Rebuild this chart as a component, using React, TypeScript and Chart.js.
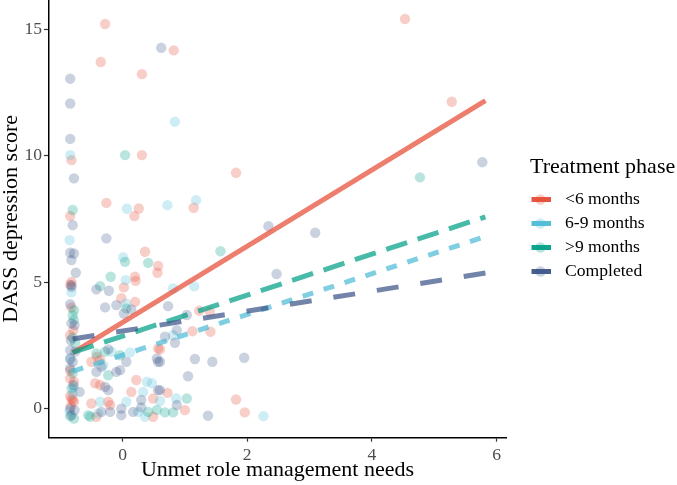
import React, { useEffect, useRef } from "react";
import { Chart, registerables } from "chart.js";

Chart.register(...registerables);

// ---------- data ----------
const groupLabels = ["<6 months", "6-9 months", ">9 months", "Completed"];
const groupColors = ["230,75,53", "77,187,213", "0,160,135", "60,84,136"];

const xTicks = [0, 2, 4, 6];
const yTicks = [0, 5, 10, 15];

const lt6X = [-0.28, -0.35, 0.82, 0.31, 0.31, 1.82, -0.26, 0.26, 0.19, 1.14, 4.53, 5.28, -0.82, -0.84, 0.36, 0.57, 0.56, -0.82, 0.2, 0.21, 0.02, -0.82, -0.02, 0.2, 1.23, 1.4, 1.12, 1.41, 0.6, -0.84, 0.57, -0.5, -0.36, -0.41, -0.84, -0.78, -0.44, -0.36, 0.22, 0.14, 0.49, -0.5, -0.23, -0.2, -0.42, 0.49, 0.72, 1.0, 1.82, 1.96, -0.82, -0.78, -0.84, -0.8, -0.84, -0.84, -0.83, -0.79];
const lt6Y = [15.2, 13.7, 14.16, 13.22, 10.02, 9.32, 8.13, 7.91, 7.61, 7.94, 15.4, 12.13, 9.82, 7.61, 6.2, 5.64, 5.37, 5.01, 5.21, 5.05, 4.79, 4.0, 4.36, 4.22, 3.87, 3.83, 3.06, 3.04, 2.34, 2.9, 2.38, 1.85, 1.92, 2.05, 1.19, 1.06, 1.0, 0.93, 1.13, 0.66, 0.4, 0.2, 0.27, 0.14, -0.32, -0.32, 0.62, -0.06, 0.36, -0.15, 0.4, 0.27, 0.5, 0.33, 1.5, 4.9, 0.1, 3.1];

const m69X = [0.84, 0.07, 0.72, 1.18, -0.84, -0.85, 0.01, 0.05, 0.05, 0.81, 1.15, -0.18, 0.12, -0.31, 0.47, 0.33, 0.06, -0.36, 0.36, 0.86, 2.26, 0.81, -0.78, -0.85, -0.84, 0.25, -0.39, 0.39, -0.82, -0.8, 0.6];
const m69Y = [11.34, 7.9, 8.04, 8.24, 10.02, 6.66, 5.98, 5.08, 4.16, 4.75, 4.83, 2.25, 2.22, 1.72, 1.0, 0.66, 0.27, 0.27, -0.32, 0.4, -0.3, 2.9, 0.85, -0.1, 2.0, -0.13, -0.19, 1.06, 4.6, 0.6, 0.3];

const gt9X = [0.04, 4.77, 1.57, -0.8, 0.04, 0.41, -0.19, -0.36, 0.06, -0.78, -0.8, -0.78, -0.42, -0.28, -0.04, -0.23, -0.8, -0.52, 0.41, 1.03, 0.68, 0.81, -0.78, -0.84, -0.8, -0.76, -0.55, 0.55, -0.82];
const gt9Y = [10.02, 9.14, 6.22, 7.85, 5.8, 5.76, 5.21, 4.84, 3.96, 3.89, 3.69, 3.5, 2.18, 2.25, 2.11, 1.32, 1.4, -0.32, -0.13, 0.4, -0.15, -0.15, -0.39, -0.3, 2.8, 2.6, -0.26, -0.05, 0.8];

const compX = [0.62, -0.84, -0.84, -0.84, -0.78, -0.8, -0.26, 5.77, 2.34, 3.09, 2.47, -0.84, -0.78, -0.82, -0.75, -0.82, -0.82, -0.42, -0.22, -0.84, -0.28, -0.1, 0.02, 0.14, 0.73, 1.03, 0.87, 0.84, -0.82, -0.77, -0.83, -0.84, -0.76, -0.84, -0.8, -0.84, -0.79, -0.69, -0.84, -0.77, -0.82, -0.23, -0.34, 0.06, -0.04, -0.42, -0.1, 0.55, 0.57, 0.6, 1.16, 1.44, 1.95, 1.05, 0.6, 0.87, 1.37, -0.28, -0.23, 0.57, 0.3, -0.2, -0.34, -0.02, -0.02, 0.17, 0.3, 0.68];
const compY = [14.26, 13.04, 12.06, 10.66, 9.1, 7.25, 6.73, 9.74, 7.21, 6.95, 5.32, 6.16, 6.13, 5.87, 5.37, 4.88, 4.81, 4.71, 4.66, 4.13, 4.0, 4.09, 3.76, 3.92, 4.05, 3.7, 3.1, 2.6, 3.37, 3.3, 2.7, 2.31, 2.25, 1.95, 1.85, 1.59, 0.93, 0.66, 0.0, -0.06, -0.26, 2.34, 1.65, 1.85, 1.52, 1.45, 1.45, 1.98, 1.85, 1.85, 1.96, 1.85, 2.01, 1.28, 0.73, 0.14, -0.28, 0.86, 0.73, 0.73, 0.34, -0.13, -0.13, 0.0, -0.26, -0.13, 0.05, 2.84];

// fitted lines (endpoints)
const fitX = [-0.8, 5.82];
const lt6Fit = [2.2, 12.17];
const m69Fit = [1.47, 6.8];
const gt9Fit = [2.22, 7.58];
const compFit = [2.75, 5.36];

const xTitle = "Unmet role management needs";
const yTitle = "DASS depression score";
const legendTitle = "Treatment phase";

const FONT = '"Liberation Serif", "Times New Roman", serif';

const pts = (xs: number[], ys: number[]) => xs.map((x, i) => ({ x, y: ys[i] }));

const legendPlugin = {
  id: "customLegend",
  afterDraw(chart: any) {
    const ctx = chart.ctx;
    const ca = chart.chartArea;
    const left = ca.right + 24;
    ctx.save();
    ctx.textBaseline = "middle";
    ctx.textAlign = "left";
    ctx.fillStyle = "#000";
    ctx.font = `22px ${FONT}`;
    ctx.fillText(legendTitle, left, 167);
    groupLabels.forEach((lab, i) => {
      const y = 199.5 + i * 24;
      ctx.fillStyle = `rgba(${groupColors[i]},0.27)`;
      ctx.beginPath();
      ctx.arc(left + 10.5, y, 5.2, 0, Math.PI * 2);
      ctx.fill();
      ctx.strokeStyle = `rgba(${groupColors[i]},0.95)`;
      ctx.lineWidth = 5;
      ctx.lineCap = "butt";
      ctx.beginPath();
      ctx.moveTo(left + 1.5, y);
      ctx.lineTo(left + 21, y);
      ctx.stroke();
      ctx.fillStyle = "#000";
      ctx.font = `17.6px ${FONT}`;
      ctx.fillText(lab, left + 35, y);
    });
    ctx.restore();
  },
};

const zeroPad = (s: any) => {
  s.paddingTop = 0;
  s.paddingBottom = 0;
  s.paddingLeft = 0;
  s.paddingRight = 0;
};

export default function App() {
  const ref = useRef<HTMLCanvasElement>(null);
  useEffect(() => {
    if (!ref.current) return;
    const scatterSets = [
      [lt6X, lt6Y],
      [m69X, m69Y],
      [gt9X, gt9Y],
      [compX, compY],
    ].map(([xs, ys], i) => ({
      label: groupLabels[i],
      data: pts(xs, ys),
      backgroundColor: `rgba(${groupColors[i]},0.27)`,
      borderWidth: 0,
      pointRadius: 5.2,
      order: 13 - i,
    }));
    const fits = [lt6Fit, m69Fit, gt9Fit, compFit];
    const dashes = [[], [11, 11], [22, 11], [22, 22]];
    const lineSets = fits.map((f, i) => ({
      label: groupLabels[i] + " fit",
      data: pts(fitX, f),
      showLine: true,
      borderColor: `rgba(${groupColors[i]},0.72)`,
      borderWidth: 5,
      borderDash: dashes[i],
      borderCapStyle: "butt",
      pointRadius: 0,
      fill: false,
      order: 3 - i,
    }));
    const chart = new Chart(ref.current, {
      type: "scatter",
      data: { datasets: [...lineSets, ...scatterSets] as any },
      options: {
        animation: false,
        responsive: false,
        events: [],
        layout: { autoPadding: false, padding: { left: 0, right: 171, top: 0, bottom: 0 } },
        plugins: { legend: { display: false }, tooltip: { enabled: false } },
        scales: {
          x: {
            type: "linear",
            min: -1.18,
            max: 6.15,
            afterBuildTicks: (s: any) => {
              s.ticks = xTicks.map((v) => ({ value: v }));
            },
            afterFit: (s: any) => {
              s.height = 47.3;
              zeroPad(s);
            },
            grid: { drawOnChartArea: false, drawTicks: true, tickLength: 4, tickColor: "#333", tickWidth: 1.2 },
            border: { display: true, color: "#000", width: 1.5 },
            ticks: { color: "#4D4D4D", font: { family: FONT, size: 17.6 }, padding: 3, maxRotation: 0 },
            title: { display: true, text: xTitle, color: "#000", font: { family: FONT, size: 22, lineHeight: 1 }, padding: { top: 0, bottom: 4 } },
          },
          y: {
            type: "linear",
            min: -1.15,
            max: 16.15,
            afterBuildTicks: (s: any) => {
              s.ticks = yTicks.map((v) => ({ value: v }));
            },
            afterFit: (s: any) => {
              s.width = 49;
              zeroPad(s);
            },
            grid: { drawOnChartArea: false, drawTicks: true, tickLength: 5, tickColor: "#333", tickWidth: 1.2 },
            border: { display: true, color: "#000", width: 1.5 },
            ticks: { color: "#4D4D4D", font: { family: FONT, size: 17.6 }, padding: 2 },
            title: { display: true, text: yTitle, color: "#000", font: { family: FONT, size: 22, lineHeight: 1 }, padding: { top: 0, bottom: 0 } },
          },
        },
      } as any,
      plugins: [legendPlugin],
    });
    return () => chart.destroy();
  }, []);
  return (
    <div style={{ position: "absolute", left: 0, top: 0, width: 677, height: 485, background: "#fff" }}>
      <canvas ref={ref} width={677} height={485} style={{ display: "block", width: 677, height: 485 }} />
    </div>
  );
}
